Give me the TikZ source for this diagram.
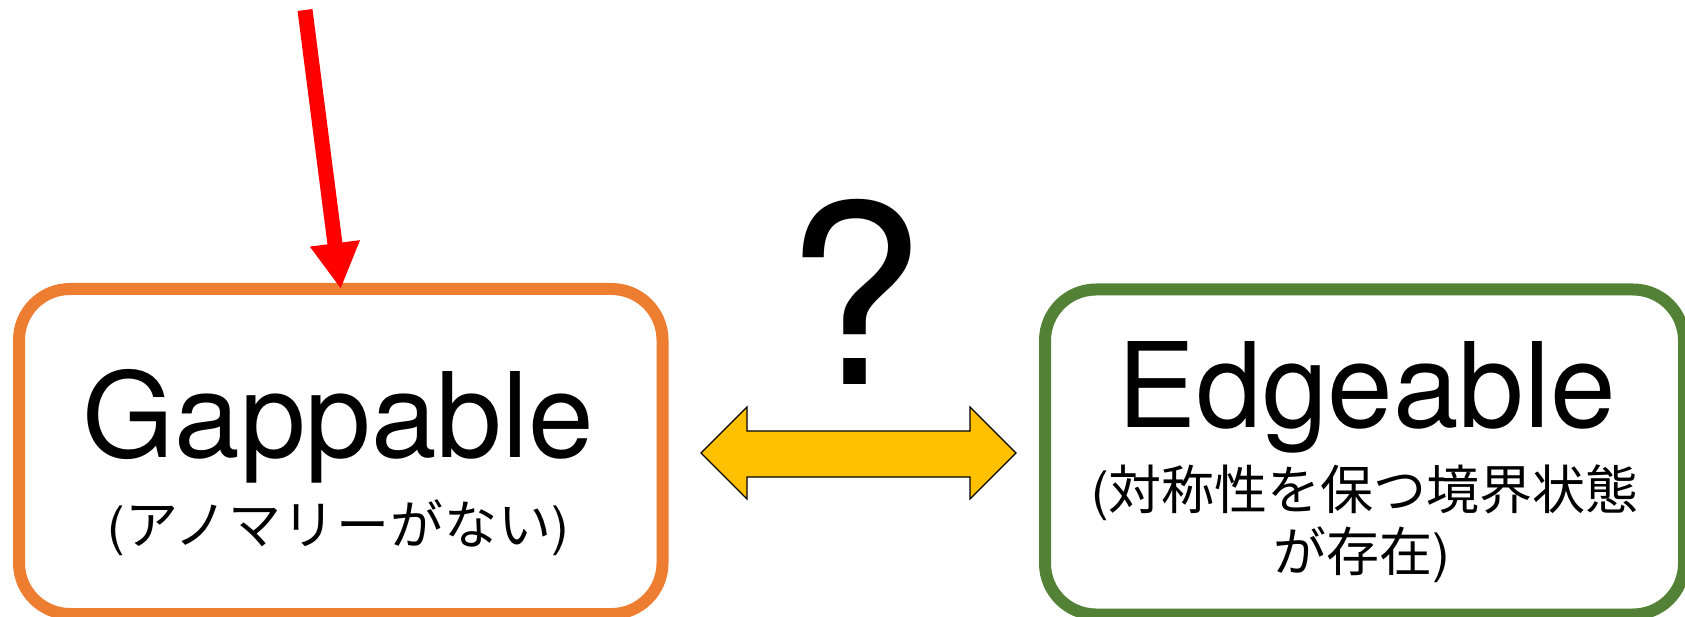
\documentclass[tikz,border=0pt]{standalone}
\usepackage{fontspec}
\setmainfont{TeX Gyre Heros}
\newfontfamily\cjk{Noto Sans CJK JP}
\usetikzlibrary{arrows.meta}
\definecolor{boxorange}{HTML}{ED7D31}
\definecolor{boxgreen}{HTML}{538135}
\definecolor{arrowgold}{HTML}{FFC000}

\begin{document}
\begin{tikzpicture}[x=1pt,y=-1pt,
  panel/.style={draw=#1, line width=12pt, rounded corners=51pt,
    minimum height=325pt, inner sep=0pt, outer sep=0pt, fill=white},
  title/.style={anchor=base, inner sep=0pt, font=\fontsize{118}{140}\selectfont},
  note/.style={anchor=base, inner sep=0pt, font=\fontsize{53}{62}\selectfont},
]
\useasboundingbox (0,0) rectangle (1685,617);

% the two panels
\node[panel=boxorange, minimum width=643.5pt] (gapbox) at (340.75,451.5) {};
\node[panel=boxgreen, minimum width=639pt] (edgebox) at (1364.5,452) {};

% panel texts
\node[title] (gaptitle) at (338.5,457) {Gappable};
\node[note] (gapnote) at (338.5,544) {({\cjk\addfontfeature{LetterSpace=2}アノマリーがない})};
\node[title] (edgetitle) at (1367,427) {Edgeable};
\node[note] (edgenote1) at (1365,509) {({\cjk 対称性を保つ境界状態}};
\node[note] (edgenote2) at (1362,571) {{\cjk が存在})};

% incoming red arrow
\coordinate (src) at (305,10);
\draw[red, line width=15pt, -{Triangle[length=46pt,width=47pt]}] (src) -- (gapbox.north);

% question mark and two-headed block arrow
\node[anchor=base, inner sep=0pt, font=\fontsize{250}{300}\selectfont] (qm) at (855,384) {?};
\draw[fill=arrowgold, line width=1.2pt, line join=miter]
  (701,453) -- (747,407) -- (747,431) -- (970,431) -- (970,407) -- (1016,453)
  -- (970,499) -- (970,477) -- (747,477) -- (747,499) -- cycle;
\end{tikzpicture}
\end{document}
